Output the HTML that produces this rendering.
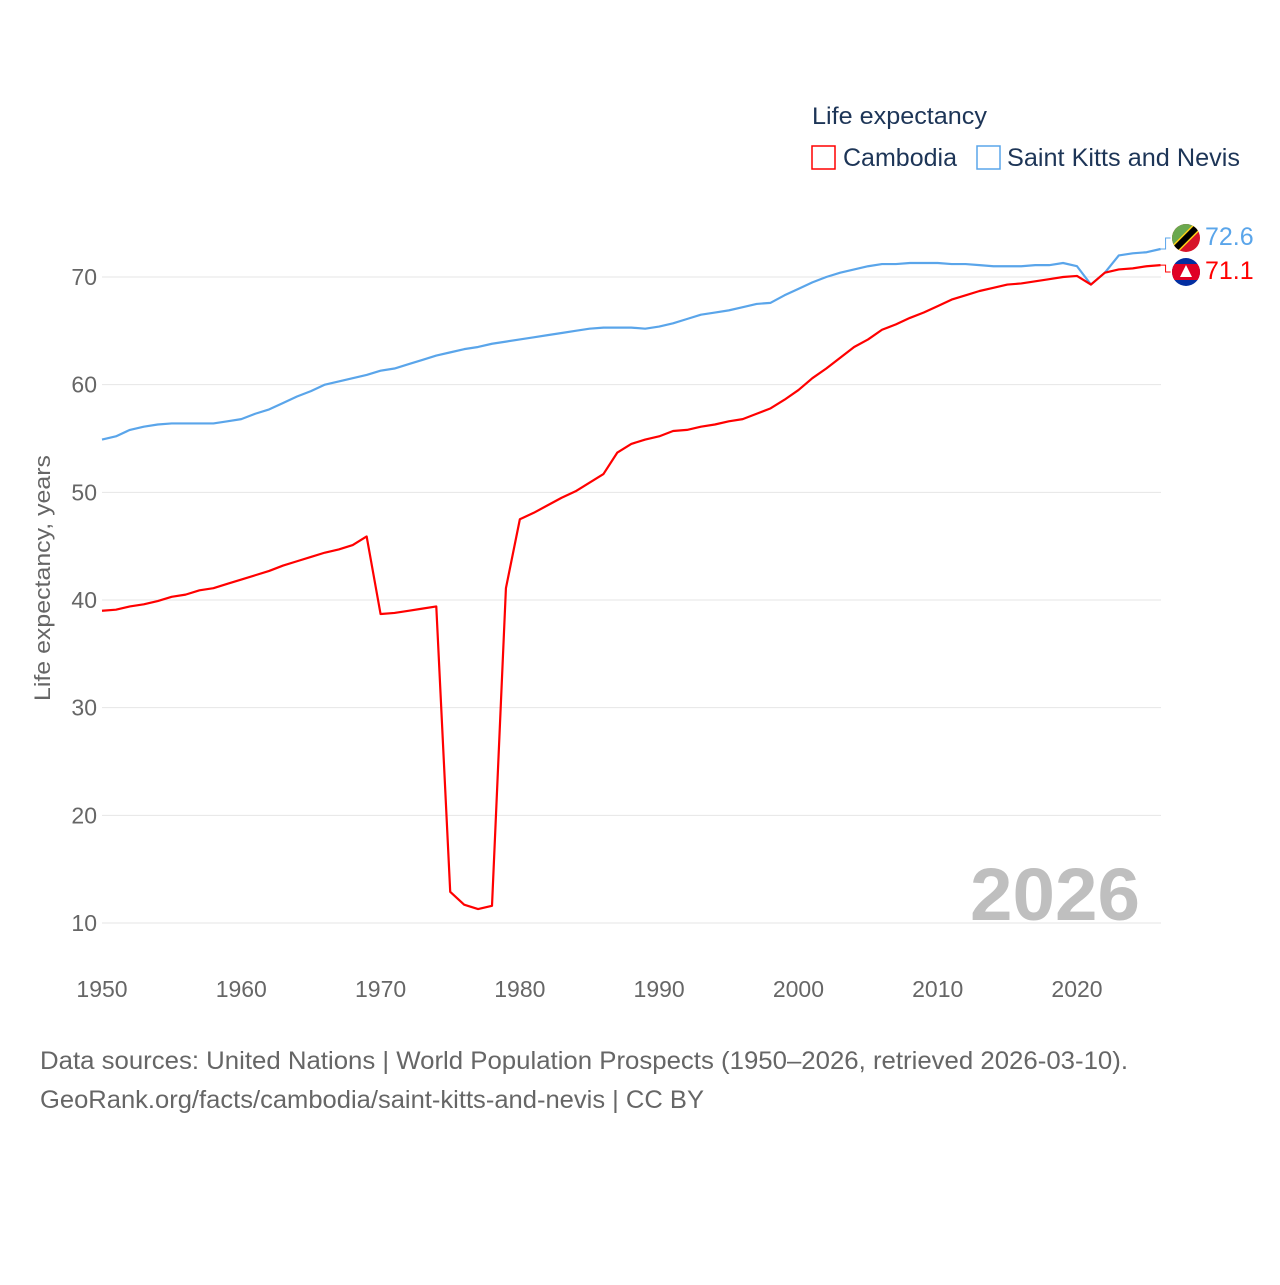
<!DOCTYPE html>
<html><head><meta charset="utf-8"><style>
body{margin:0;background:#fff;}
svg text{font-family:"Liberation Sans",sans-serif;}
</style></head><body>
<svg id="chart" width="1280" height="1280" xmlns="http://www.w3.org/2000/svg">
<g id="grid"></g>
<g id="yt"></g>
<g id="xt"></g>
<text transform="translate(50,578) rotate(-90)" text-anchor="middle" font-size="22" fill="#666" textLength="246" lengthAdjust="spacingAndGlyphs">Life expectancy, years</text>
<text x="1140" y="920" text-anchor="end" font-size="74" font-weight="bold" fill="#bfbfbf" textLength="170" lengthAdjust="spacingAndGlyphs">2026</text>
<g id="series"></g>
<text x="812" y="124" font-size="24" fill="#1d3557" textLength="175" lengthAdjust="spacingAndGlyphs">Life expectancy</text>
<g>
<rect x="812" y="146" width="23" height="23" fill="none" stroke="#f00" stroke-width="1.5"/>
<text x="843" y="166" font-size="25" fill="#1d3557" textLength="114" lengthAdjust="spacingAndGlyphs">Cambodia</text></g>
<g>
<rect x="977" y="146" width="23" height="23" fill="none" stroke="#5aa5ea" stroke-width="1.5"/>
<text x="1007" y="166" font-size="25" fill="#1d3557" textLength="233" lengthAdjust="spacingAndGlyphs">Saint Kitts and Nevis</text></g>
<g>
<clipPath id="c1"><circle cx="1186" cy="238" r="14"/></clipPath>
<g clip-path="url(#c1)"><rect x="1170" y="222" width="32" height="32" fill="#d7142a"/><polygon points="1170,222 1202,222 1170,254" fill="#6aa84f"/><line x1="1172" y1="252" x2="1200" y2="224" stroke="#fcd116" stroke-width="9"/><line x1="1172" y1="252" x2="1200" y2="224" stroke="#000" stroke-width="6"/></g></g>
<g>
<clipPath id="c2"><circle cx="1186" cy="272" r="14"/></clipPath>
<g clip-path="url(#c2)"><rect x="1170" y="256" width="32" height="32" fill="#032ea1"/><rect x="1170" y="264" width="32" height="16" fill="#e00025"/><polygon points="1186,265 1180,277 1192,277" fill="#fff"/></g></g>
<text x="1205" y="245" font-size="25" fill="#5aa5ea">72.6</text>
<text x="1205" y="279" font-size="25" fill="#f00">71.1</text>
<text x="40" y="1069" font-size="25" fill="#666" textLength="1088" lengthAdjust="spacingAndGlyphs">Data sources: United Nations | World Population Prospects (1950–2026, retrieved 2026-03-10).</text>
<text x="40" y="1108" font-size="25" fill="#666" textLength="664" lengthAdjust="spacingAndGlyphs">GeoRank.org/facts/cambodia/saint-kitts-and-nevis | CC BY</text>
</svg>
<script>
const years=[];for(let y=1950;y<=2026;y++)years.push(y);
const cambodia=[39.0,39.1,39.4,39.6,39.9,40.3,40.5,40.9,41.1,41.5,41.9,42.3,42.7,43.2,43.6,44.0,44.4,44.7,45.1,45.9,38.7,38.8,39.0,39.2,39.4,12.9,11.7,11.3,11.6,41.1,47.5,48.1,48.8,49.5,50.1,50.9,51.7,53.7,54.5,54.9,55.2,55.7,55.8,56.1,56.3,56.6,56.8,57.3,57.8,58.6,59.5,60.6,61.5,62.5,63.5,64.2,65.1,65.6,66.2,66.7,67.3,67.9,68.3,68.7,69.0,69.3,69.4,69.6,69.8,70.0,70.1,69.3,70.4,70.7,70.8,71.0,71.1];
const stkitts=[54.9,55.2,55.8,56.1,56.3,56.4,56.4,56.4,56.4,56.6,56.8,57.3,57.7,58.3,58.9,59.4,60.0,60.3,60.6,60.9,61.3,61.5,61.9,62.3,62.7,63.0,63.3,63.5,63.8,64.0,64.2,64.4,64.6,64.8,65.0,65.2,65.3,65.3,65.3,65.2,65.4,65.7,66.1,66.5,66.7,66.9,67.2,67.5,67.6,68.3,68.9,69.5,70.0,70.4,70.7,71.0,71.2,71.2,71.3,71.3,71.3,71.2,71.2,71.1,71.0,71.0,71.0,71.1,71.1,71.3,71.0,69.3,70.4,72.0,72.2,72.3,72.6];
const yTicks=[10,20,30,40,50,60,70];
const xTicks=[1950,1960,1970,1980,1990,2000,2010,2020];
const X=v=>102+(v-1950)*975/70;
const Y=v=>277-(v-70)*10.767;
const NS="http://www.w3.org/2000/svg";
function mk(t,a,p){const e=document.createElementNS(NS,t);for(const k in a)e.setAttribute(k,a[k]);p.appendChild(e);return e;}
const grid=document.getElementById('grid'),yt=document.getElementById('yt'),xt=document.getElementById('xt'),ser=document.getElementById('series');
yTicks.forEach(v=>{
 const l=mk('line',{x1:102,x2:1161,y1:Y(v),y2:Y(v),stroke:'#e6e6e6','stroke-width':1},grid);
 
 
 const t=mk('text',{x:97,y:Y(v)+8,'text-anchor':'end','font-size':23,fill:'#666'},yt);t.textContent=v;
 
 
});
xTicks.forEach(v=>{
 const t=mk('text',{x:X(v),y:997,'text-anchor':'middle','font-size':23,fill:'#666'},xt);t.textContent=v;
 
 
});
function line(vals,col,name,ly){
 const p=mk('polyline',{points:vals.map((v,i)=>X(years[i])+','+Y(v)).join(' '),fill:'none',stroke:col,'stroke-width':2.2,'stroke-linejoin':'round'},ser);
 
 
 const e=Y(vals[vals.length-1]),x=X(years[years.length-1]);
 const c=mk('polyline',{points:`${x},${e} ${x+5},${e} ${x+5},${ly} ${x+10},${ly}`,fill:'none',stroke:col,'stroke-width':1},ser);
 
 
}
line(stkitts,'#5aa5ea','line-saint-kitts-and-nevis',238);
line(cambodia,'#ff0000','line-cambodia',272);
</script>
</body></html>
